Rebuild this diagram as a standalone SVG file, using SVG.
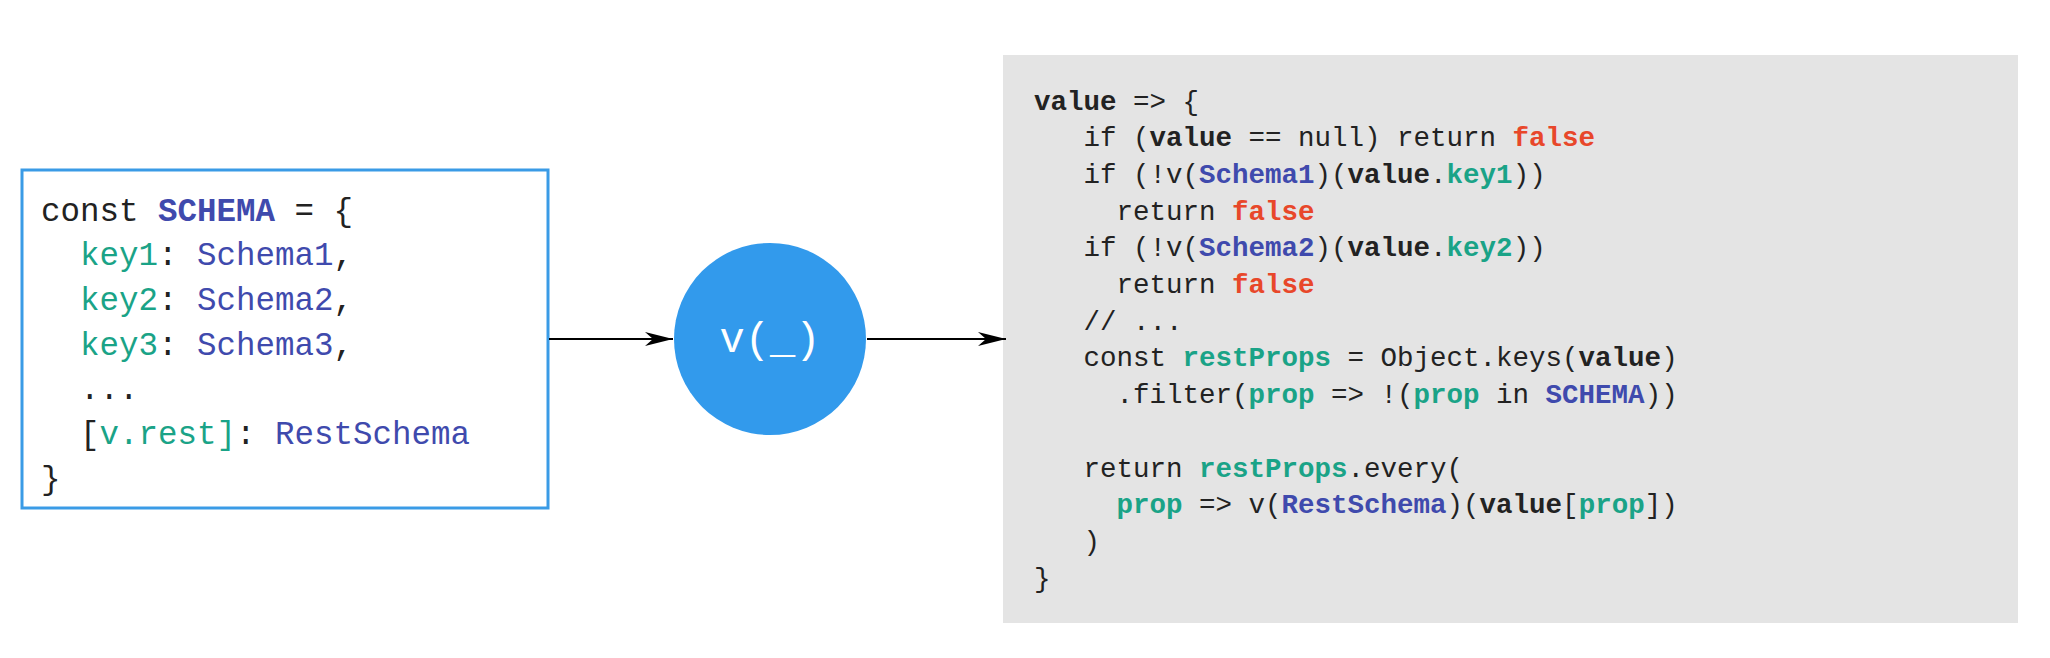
<svg xmlns="http://www.w3.org/2000/svg" width="2050" height="658" viewBox="0 0 2050 658">
<style>
.code{font-family:"Liberation Mono","DejaVu Sans Mono",monospace;fill:#222;}
.l{font-size:32.5px;}
.r{font-size:27.5px;}
.b{font-weight:bold;}
.bl{fill:#3f4aad;}
.gr{fill:#1aa387;}
.rd{fill:#e8472a;}
.dk{fill:#222;}
.conn{stroke:#000;stroke-width:2;fill:none;}
</style>
<defs>
<marker id="ah" markerUnits="userSpaceOnUse" markerWidth="30" markerHeight="16" refX="28" refY="7" orient="auto">
<path d="M0,0 L28,7 L0,14 L8,7 Z" fill="#000"/>
</marker>
</defs>
<rect width="2050" height="658" fill="#fff"/>
<g id="schema">
<rect x="22" y="170" width="526" height="338" fill="#fff" stroke="#3a9be6" stroke-width="3"/>
<g class="code l" xml:space="preserve">
<text x="41" y="220.5">const <tspan class="b bl">SCHEMA</tspan> = {</text>
<text x="80" y="265.2"><tspan class="gr">key1</tspan>: <tspan class="bl">Schema1</tspan>,</text>
<text x="80" y="309.9"><tspan class="gr">key2</tspan>: <tspan class="bl">Schema2</tspan>,</text>
<text x="80" y="354.6"><tspan class="gr">key3</tspan>: <tspan class="bl">Schema3</tspan>,</text>
<text x="80" y="399.3">...</text>
<text x="80" y="444">[<tspan class="gr">v.rest]</tspan>: <tspan class="bl">RestSchema</tspan></text>
<text x="41" y="488.7">}</text>
</g>
</g>
<g id="v">
<circle cx="770" cy="339" r="96" fill="#329aec"/>
<text x="770" y="352" text-anchor="middle" font-family="Liberation Mono, DejaVu Sans Mono, monospace" font-size="42" fill="#fff">v(_)</text>
</g>
<g id="validator">
<rect x="1003" y="55" width="1015" height="568" fill="#e4e4e4"/>
<g class="code r" xml:space="preserve">
<text x="1034" y="109.5"><tspan class="b">value</tspan> => {</text>
<text x="1083.5" y="146.2">if (<tspan class="b">value</tspan> == null) return <tspan class="b rd">false</tspan></text>
<text x="1083.5" y="182.9">if (!v(<tspan class="b bl">Schema1</tspan>)(<tspan class="b">value</tspan>.<tspan class="b gr">key1</tspan>))</text>
<text x="1116.5" y="219.6">return <tspan class="b rd">false</tspan></text>
<text x="1083.5" y="256.3">if (!v(<tspan class="b bl">Schema2</tspan>)(<tspan class="b">value</tspan>.<tspan class="b gr">key2</tspan>))</text>
<text x="1116.5" y="293">return <tspan class="b rd">false</tspan></text>
<text x="1083.5" y="329.7">// ...</text>
<text x="1083.5" y="366.4">const <tspan class="b gr">restProps</tspan> = Object.keys(<tspan class="b">value</tspan>)</text>
<text x="1116.5" y="403.1">.filter(<tspan class="b gr">prop</tspan> => !(<tspan class="b gr">prop</tspan> in <tspan class="b bl">SCHEMA</tspan>))</text>
<text x="1083.5" y="476.5">return <tspan class="b gr">restProps</tspan>.every(</text>
<text x="1116.5" y="513.2"><tspan class="b gr">prop</tspan> => v(<tspan class="b bl">RestSchema</tspan>)(<tspan class="b">value</tspan>[<tspan class="b gr">prop</tspan>])</text>
<text x="1083.5" y="549.9">)</text>
<text x="1034" y="586.6">}</text>
</g>
</g>
<g id="connectors">
<line class="conn" x1="549" y1="339" x2="673" y2="339" marker-end="url(#ah)"/>
<line class="conn" x1="867" y1="339" x2="1006" y2="339" marker-end="url(#ah)"/>
</g>
</svg>
